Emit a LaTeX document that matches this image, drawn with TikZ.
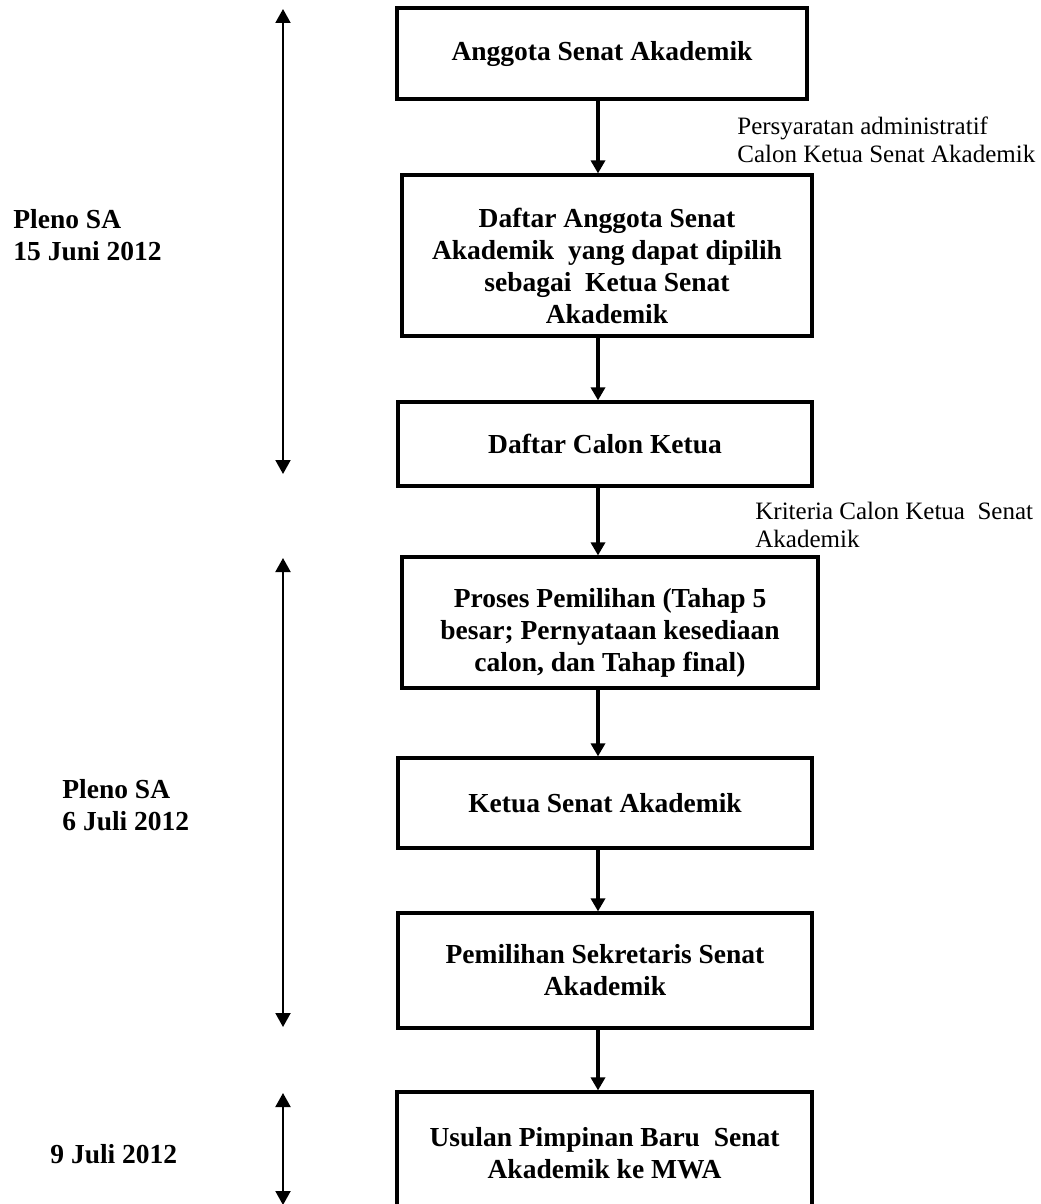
\documentclass[tikz,border=0pt]{standalone}
\usepackage{fontspec}
\setmainfont{Liberation Serif}
\usetikzlibrary{arrows.meta}

\begin{document}
\begin{tikzpicture}[x=0.5pt,y=-0.5pt,
        kotak/.style={draw, line width=1.6pt, align=center, inner sep=0pt,
            font=\fontsize{13.75}{16}\selectfont\bfseries},
        catatan/.style={anchor=north west, align=left, inner sep=0pt,
            font=\fontsize{12.5}{14}\selectfont},
        tanggal/.style={anchor=north west, align=left, inner sep=0pt,
            font=\fontsize{13.75}{16}\selectfont\bfseries},
        panah/.style={line width=1.6pt, -{Triangle[width=7pt,length=6.5pt]}},
        rentang/.style={line width=1pt,
            {Triangle[width=7.5pt,length=7pt]}-{Triangle[width=7.5pt,length=7pt]}}]
        \useasboundingbox (0,0) rectangle (1040,1204);

        % Kotak alur
        \node[kotak, minimum width=205pt, minimum height=45.5pt] (anggota) at (602,53.5)
            {Anggota Senat Akademik};
        \node[kotak, minimum width=205pt, minimum height=80.5pt] (daftar) at (607,255.5)
            {\rule{0pt}{20pt}Daftar Anggota Senat\\Akademik\ \ yang dapat dipilih\\sebagai\ \ Ketua Senat\\Akademik};
        \node[kotak, minimum width=207pt, minimum height=42pt] (calon) at (605,444)
            {Daftar Calon Ketua};
        \node[kotak, minimum width=208pt, minimum height=65.5pt] (proses) at (610,622.5)
            {\rule{0pt}{20pt}Proses Pemilihan (Tahap 5\\besar; Pernyataan kesediaan\\calon, dan Tahap final)};
        \node[kotak, minimum width=207pt, minimum height=45pt] (ketua) at (605,803)
            {Ketua Senat Akademik};
        \node[kotak, minimum width=207pt, minimum height=57.5pt] (sekretaris) at (605,970.5)
            {Pemilihan Sekretaris Senat\\Akademik};
        \node[kotak, minimum width=207.5pt, minimum height=61pt] (usulan) at (604.5,1153)
            {Usulan Pimpinan Baru\ \ Senat\\Akademik ke MWA};

        % Panah antar kotak
        \coordinate (poros) at (598,0);
        \foreach \a/\b in {anggota/daftar, daftar/calon, calon/proses,
                proses/ketua, ketua/sekretaris, sekretaris/usulan} {
            \draw[panah] (\a.south -| poros) -- (\b.north -| poros);
        }

        % Keterangan
        \node[catatan] (syarat) at (737,116) {Persyaratan administratif\\Calon Ketua Senat Akademik};
        \node[catatan] (kriteria) at (755,502) {Kriteria Calon Ketua\ \ Senat\\Akademik};

        % Jadwal
        \node[tanggal] (pleno1) at (13,209) {Pleno SA\\15 Juni 2012};
        \node[tanggal] (pleno2) at (62,779) {Pleno SA\\6 Juli 2012};
        \node[tanggal] (juli9) at (50,1144) {9 Juli 2012};

        \foreach \i/\a/\b in {1/9/474, 2/558/1027, 3/1093/1205} {
            \coordinate (atas\i) at (283,\a);
            \coordinate (bawah\i) at (283,\b);
            \draw[rentang] (atas\i) -- (bawah\i);
        }
    \end{tikzpicture}
\end{document}
